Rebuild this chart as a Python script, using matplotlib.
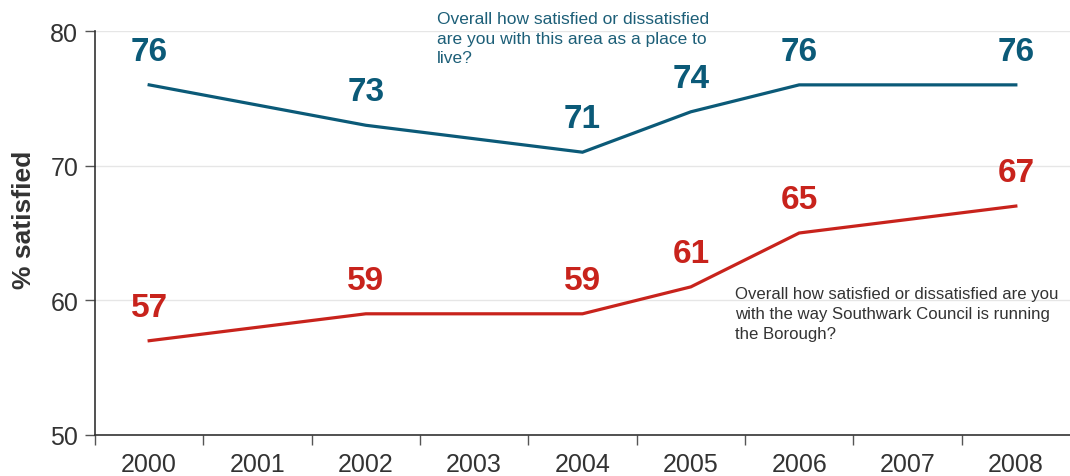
import matplotlib
matplotlib.use('Agg')
import matplotlib.pyplot as plt
import numpy as np

plt.rcParams.update({
    'font.family': ['Liberation Sans', 'DejaVu Sans'],
    'axes.linewidth': 1.2,
})

# Data
years = [2000, 2001, 2002, 2003, 2004, 2005, 2006, 2007, 2008]
area_years = [2000, 2002, 2004, 2005, 2006, 2008]
area_values = [76, 73, 71, 74, 76, 76]
council_years = [2000, 2002, 2004, 2005, 2006, 2008]
council_values = [57, 59, 59, 61, 65, 67]
y_ticks = [50, 60, 70, 80]

blue = '#0b5a78'
red = '#c8231c'
dark = '#333333'

fig = plt.figure(figsize=(10.7, 4.77), dpi=100)
ax = fig.add_axes([95 / 1070, 1 - 436 / 477, 1 - 95 / 1070, (436 - 32) / 477])

pos = {y: i for i, y in enumerate(years)}
ax_x = [pos[y] for y in area_years]
co_x = [pos[y] for y in council_years]

ax.plot(ax_x, area_values, color=blue, lw=2.3, solid_joinstyle='miter', zorder=3)
ax.plot(co_x, council_values, color=red, lw=2.3, solid_joinstyle='miter', zorder=3)

for x, v in zip(ax_x, area_values):
    ax.annotate(str(v), (x, v), xytext=(0, 24), textcoords='offset points',
                ha='center', va='center', fontsize=24, fontweight='bold', color=blue)
for x, v in zip(co_x, council_values):
    ax.annotate(str(v), (x, v), xytext=(0, 24), textcoords='offset points',
                ha='center', va='center', fontsize=24, fontweight='bold', color=red)

# question captions
fig.text(437 / 1070, 1 - 12 / 477,
         'Overall how satisfied or dissatisfied\nare you with this area as a place to\nlive?',
         ha='left', va='top', fontsize=12.5, color='#1d5f78', linespacing=1.38)
fig.text(735 / 1070, 1 - 287 / 477,
         'Overall how satisfied or dissatisfied are you\nwith the way Southwark Council is running\nthe Borough?',
         ha='left', va='top', fontsize=12.1, color=dark, linespacing=1.4)

ax.set_xlim(-0.5, len(years) - 0.5)
ax.set_ylim(50, 80)
ax.set_yticks(y_ticks)
ax.set_xticks(range(len(years)))
ax.set_xticklabels([str(y) for y in years])
ax.set_xticks(np.arange(-0.5, len(years) - 0.5, 1), minor=True)
ax.tick_params(axis='x', which='major', length=0, pad=12, labelsize=18, labelcolor=dark)
ax.tick_params(axis='x', which='minor', length=7, width=1, color='#555555', direction='out')
ax.tick_params(axis='y', length=7, width=1, color='#555555', labelsize=18, labelcolor=dark, pad=5)

ax.grid(axis='y', color='#e6e6e6', lw=1)
ax.set_axisbelow(True)
for s in ['top', 'right']:
    ax.spines[s].set_visible(False)
for s in ['left', 'bottom']:
    ax.spines[s].set_color(dark)

ax.set_ylabel('% satisfied', fontsize=19, fontweight='bold', color=dark)
ax.yaxis.set_label_coords(-0.060, 0.535)
ax.yaxis.label.set_va('bottom')

fig.savefig('out.png', dpi=100)
